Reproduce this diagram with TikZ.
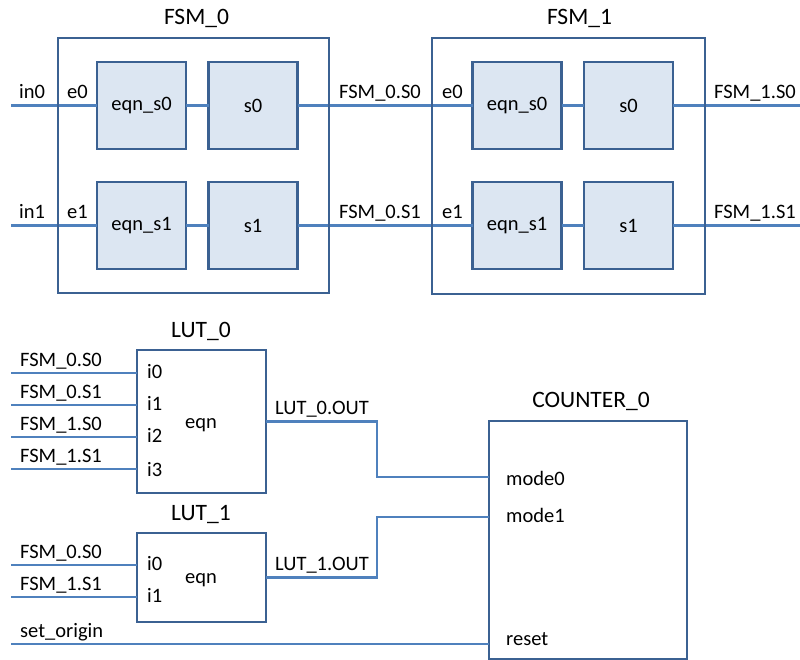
\documentclass[tikz,border=0pt]{standalone}
\usepackage{fontspec}
\setmainfont{Carlito}
\definecolor{wire}{HTML}{4F81BD}
\definecolor{frame}{HTML}{3B6192}
\definecolor{cellfill}{HTML}{DCE6F2}
\begin{document}
\begin{tikzpicture}[x=1pt,y=-1pt,
  lbl/.style={anchor=base west,inner sep=0pt,font=\fontsize{20.5}{24}\selectfont},
  ttl/.style={anchor=base,inner sep=0pt,font=\fontsize{23.5}{28}\selectfont},
  outer/.style={draw=frame,line width=2.6pt,fill=white,inner sep=0pt,outer sep=0pt},
  cell/.style={draw=frame,line width=2.6pt,fill=cellfill,inner sep=0pt,outer sep=0pt,
    minimum width=89pt,minimum height=87pt,font=\fontsize{20.5}{24}\selectfont},
  blk/.style={draw=frame,line width=2.6pt,fill=white,inner sep=0pt,outer sep=0pt},
  net/.style={draw=wire,line width=2.6pt}]
\useasboundingbox (0,0) rectangle (800,660);

% ---- FSM_0 ----
\node[outer,minimum width=271pt,minimum height=255pt] (f0) at (193.5,165.5) {};
\node[cell] (f0e0) at (141.5,105.5) {eqn\_s0};
\node[cell] (f0s0) at (253,105.5) {s0};
\node[cell] (f0e1) at (141.5,225.5) {eqn\_s1};
\node[cell] (f0s1) at (253,225.5) {s1};
\node[ttl] (t0) at (196.5,25) {FSM\_0};

% ---- FSM_1 ----
\node[outer,minimum width=273pt,minimum height=256pt] (f1) at (568.5,166) {};
\node[cell] (f1e0) at (517,105.5) {eqn\_s0};
\node[cell] (f1s0) at (628.5,105.5) {s0};
\node[cell] (f1e1) at (517,225.5) {eqn\_s1};
\node[cell] (f1s1) at (628.5,225.5) {s1};
\node[ttl] (t1) at (579.5,25) {FSM\_1};

% free ends of the FSM wires
\coordinate (in0) at (11,105.5);
\coordinate (in1) at (11,225.5);
\coordinate (o0) at (800,105.5);
\coordinate (o1) at (800,225.5);

% FSM wires
\draw[net] (in0) -- (f0e0.west);
\draw[net] (in1) -- (f0e1.west);
\draw[net] (f0e0.east) -- (f0s0.west);
\draw[net] (f0e1.east) -- (f0s1.west);
\draw[net] (f0s0.east) -- (f1e0.west);
\draw[net] (f0s1.east) -- (f1e1.west);
\draw[net] (f1e0.east) -- (f1s0.west);
\draw[net] (f1e1.east) -- (f1s1.west);
\draw[net] (f1s0.east) -- (o0);
\draw[net] (f1s1.east) -- (o1);

% redraw the frame edges crossed by the wires
\draw[frame,line width=2.6pt] (f0.north west) rectangle (f0.south east);
\draw[frame,line width=2.6pt] (f1.north west) rectangle (f1.south east);

% FSM labels
\node[lbl] at (19,99) {in0};
\node[lbl] at (67,99) {e0};
\node[lbl] at (19,219) {in1};
\node[lbl] at (67,219) {e1};
\node[lbl] at (339,99) {FSM\_0.S0};
\node[lbl] at (339,219) {FSM\_0.S1};
\node[lbl] at (442,99) {e0};
\node[lbl] at (442,219) {e1};
\node[lbl] at (714,99) {FSM\_1.S0};
\node[lbl] at (714,219) {FSM\_1.S1};

% ---- LUT_0 ----
\node[blk,minimum width=129pt,minimum height=143pt] (l0) at (201.5,421.5) {};
\node[ttl] at (201,337) {LUT\_0};
\node[lbl] at (185,428) {eqn};
\foreach \y/\t/\b [count=\i from 0] in {373/FSM\_0.S0/378,405/FSM\_0.S1/410,437/FSM\_1.S0/442,469/FSM\_1.S1/476}{
  \coordinate (a\i) at (11,\y);
  \draw[net] (a\i) -- (l0.west |- a\i);
  \node[lbl] at (20,\y-7) {\t};
  \node[lbl] at (147,\b) {i\i};
}

% ---- LUT_1 ----
\node[blk,minimum width=129pt,minimum height=89pt] (l1) at (201.5,577.5) {};
\node[ttl] at (201,520) {LUT\_1};
\node[lbl] at (185,583) {eqn};
\foreach \y/\t/\b [count=\i from 0] in {565/FSM\_0.S0/570,597/FSM\_1.S1/602}{
  \coordinate (b\i) at (11,\y);
  \draw[net] (b\i) -- (l1.west |- b\i);
  \node[lbl] at (20,\y-7) {\t};
  \node[lbl] at (147,\b) {i\i};
}

% ---- COUNTER_0 ----
\node[blk,minimum width=198pt,minimum height=238pt] (cnt) at (588,540) {};
\node[ttl] at (591,407) {COUNTER\_0};
\coordinate (m0) at (cnt.west |- 0,477);
\coordinate (m1) at (cnt.west |- 0,517);
\coordinate (rs) at (cnt.west |- 0,644);
\node[lbl] at (506,485) {mode0};
\node[lbl] at (506,522) {mode1};
\node[lbl] at (506,645) {reset};

% LUT outputs into the counter
\draw[net] (l0.east) -- ++(111,0) |- (m0);
\draw[net] (l1.east) -- ++(111,0) |- (m1);
\coordinate (so) at (11,644);
\draw[net] (so) -- (rs);
\node[lbl] (sotxt) at (20,637) {set\_origin};
\node[lbl] at (275,414) {LUT\_0.OUT};
\node[lbl] at (275,570) {LUT\_1.OUT};
\end{tikzpicture}
\end{document}
